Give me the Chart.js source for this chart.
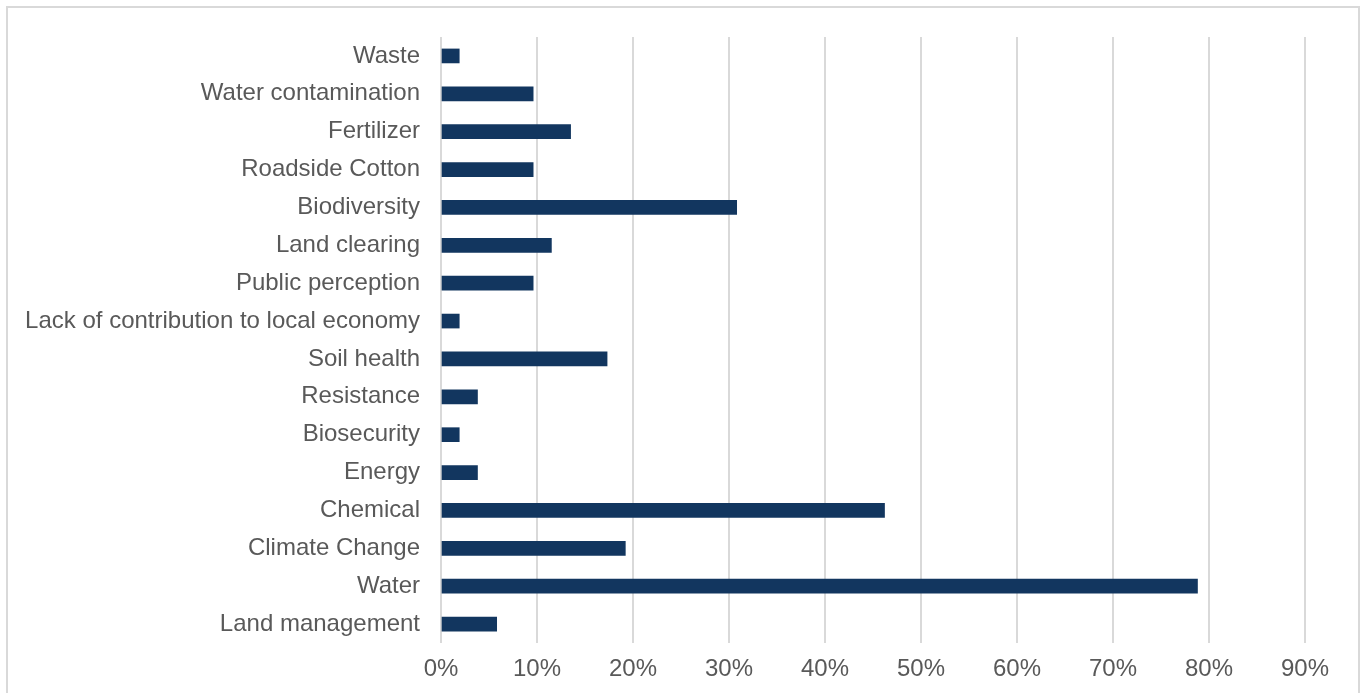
<!DOCTYPE html>
<html>
<head>
<meta charset="utf-8">
<script src="https://cdn.jsdelivr.net/npm/chart.js@4.4.0/dist/chart.umd.min.js"></script>
<style>
  html, body { margin: 0; padding: 0; background: #fff; overflow: hidden; }
  #wrap { position: relative; width: 1368px; height: 693px; }
  #frame { position: absolute; left: 6px; top: 6px; width: 1350px; height: 720px; border: 2px solid #d9d9d9; }
  #myBarChart { position: absolute; left: 0; top: 0; }
</style>
</head>
<body>
<div id="wrap">
  <div id="frame"></div>
  <canvas id="myBarChart" width="1368" height="693"></canvas>
</div>
<script>
// categories top to bottom, share of respondents (%)
const issues = ['Waste', 'Water contamination', 'Fertilizer', 'Roadside Cotton', 'Biodiversity',
  'Land clearing', 'Public perception', 'Lack of contribution to local economy', 'Soil health',
  'Resistance', 'Biosecurity', 'Energy', 'Chemical', 'Climate Change', 'Water', 'Land management'];
const shares = [1.9, 9.6, 13.5, 9.6, 30.8, 11.5, 9.6, 1.9, 17.3, 3.8, 1.9, 3.8, 46.2, 19.2, 78.8, 5.8];
const xMax = 90;
const xStep = 10;

Chart.defaults.font.family = "'Liberation Sans', Arial, sans-serif";
Chart.defaults.font.size = 24;
Chart.defaults.color = '#595959';

new Chart('myBarChart', {
  type: 'bar',
  data: {
    labels: issues,
    datasets: [{
      data: shares,
      backgroundColor: '#12365f',
      barThickness: 14
    }]
  },
  options: {
    indexAxis: 'y',
    responsive: false,
    animation: false,
    layout: { padding: { top: 37, right: 63, left: 0, bottom: 0 } },
    plugins: { legend: { display: false }, tooltip: { enabled: false } },
    scales: {
      x: {
        min: 0,
        max: xMax,
        grid: { color: '#d9d9d9', lineWidth: 2, drawTicks: false },
        border: { display: false },
        ticks: {
          stepSize: xStep,
          padding: 12,
          callback: v => v + '%'
        },
        afterFit: s => { s.height = 50; }
      },
      y: {
        grid: { display: false, drawTicks: false },
        border: { display: false },
        ticks: { padding: 21, autoSkip: false },
        afterFit: s => { s.width = 441; }
      }
    }
  }
});
</script>
</body>
</html>
